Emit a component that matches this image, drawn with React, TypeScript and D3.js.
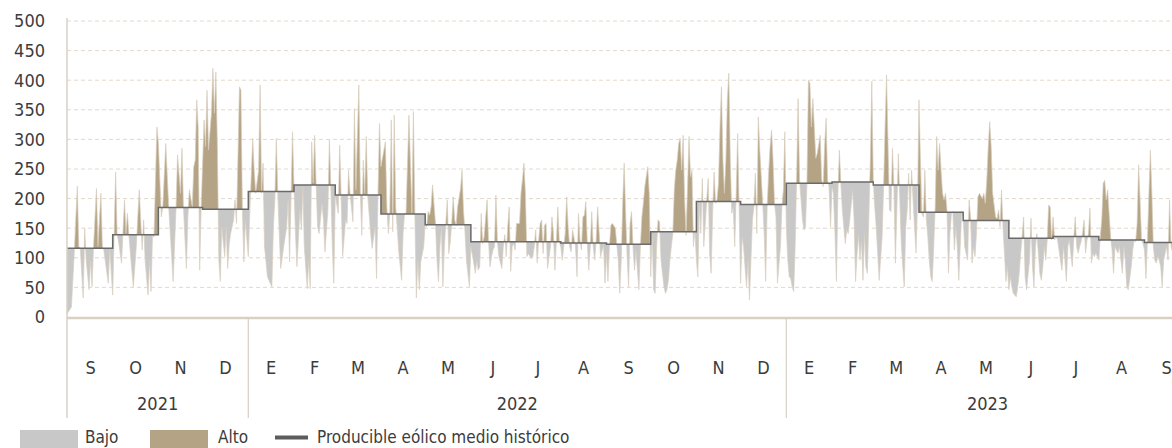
import React from 'react';
import * as d3 from 'd3';

// Series start (index 0 = 31 Aug 2021). Each pair: [days since start, daily wind production]
const production2021: [number, number][] = [
  [0,5],[3,17],[5,113],[7,221],[8,119],[9,116],[11,32],[12,150],[13,96],[15,46],[16,96],[17,51],[18,119],[20,217],[21,119],[23,209],[24,119],[25,113],[28,57],[29,116],[31,37],[33,245],[34,141],[35,127],[37,91],[39,198],[40,141],[41,175],[42,138],[44,79],[45,51],[47,119],[49,215],[51,113],[52,164],[53,96],[55,37],[56,96],[57,43],[58,138],[59,135],[61,321],[62,293],[64,169],[65,186],[67,293],[69,186],[72,60],[74,186],[75,274],[77,209],[78,285],[79,186],[81,82],[82,169],[83,215],[85,186],[86,254],[87,265],[88,367],[89,321],[90,79],[91,184],[93,333],[94,288],[95,383],[96,282],[98,344],[99,420],[100,344],[101,414],[102,293],[103,96],[104,60],[105,152],[107,102],[108,152],[109,82],[110,122],[111,141],[113,164],[114,198],[115,158],[117,389],[118,383],[119,181],[120,93],[121,164]
];
const production2022: [number, number][] = [
  [123,102],[124,175],[126,302],[127,248],[128,209],[130,248],[131,392],[132,209],[133,260],[134,119],[136,68],[137,62],[139,51],[140,152],[141,198],[142,302],[143,209],[144,141],[145,82],[147,119],[149,152],[150,198],[151,93],[153,313],[154,220],[155,141],[156,85],[158,181],[159,147],[160,220],[161,119],[163,48],[164,96],[165,48],[166,296],[167,226],[168,307],[169,226],[170,152],[171,141],[173,192],[174,164],[175,110],[177,181],[178,299],[179,220],[180,119],[181,57],[182,206],[184,175],[185,290],[186,203],[187,102],[189,164],[190,158],[191,248],[192,209],[194,161],[195,352],[196,215],[198,392],[199,209],[200,138],[201,265],[202,209],[203,305],[204,206],[206,141],[207,116],[209,152],[210,65],[211,209],[212,327],[213,254],[216,296],[217,186],[218,141],[219,175],[220,333],[221,144],[222,341],[223,186],[224,152],[225,113],[227,62],[228,141],[229,175],[230,175],[232,341],[234,175],[235,347],[236,175],[237,32],[238,96],[239,46],[240,93],[242,119],[243,158],[244,152],[245,178],[246,172],[247,186],[248,223],[250,158],[251,96],[252,60],[253,119],[254,152],[255,51],[256,119],[258,198],[259,107],[260,127],[261,158],[262,203],[263,164],[264,155],[265,186],[267,217],[268,248],[269,180],[270,144],[271,96],[273,51],[274,119],[276,91],[277,74],[278,96],[279,79],[280,85],[281,175],[282,124],[283,136],[285,198],[286,127],[287,85],[288,102],[289,113],[290,119],[291,206],[292,127],[293,102],[295,82],[296,119],[297,139],[298,102],[299,152],[300,186],[301,77],[302,119],[303,125],[304,113],[305,158],[307,158],[308,209],[309,232],[310,260],[311,209],[312,102],[313,107],[315,99],[316,102],[317,119],[318,147],[319,91],[320,130],[321,158],[322,164],[323,107],[324,155],[325,158],[326,82],[328,119],[329,169],[330,141],[331,79],[332,127],[333,186],[334,127],[335,119],[336,96],[338,141],[339,203],[340,152],[341,119],[342,110],[343,147],[345,119],[346,68],[347,175],[348,130],[349,113],[350,169],[351,172],[352,195],[353,124],[354,79],[355,119],[356,178],[357,119],[358,96],[359,130],[360,186],[362,102],[364,122],[365,57],[366,107],[367,60],[368,119],[369,155],[370,158],[372,150],[373,122],[374,96],[375,40],[376,96],[377,192],[378,260],[379,175],[380,102],[381,51],[382,158],[383,178],[384,119],[385,79],[386,113],[388,46],[389,119],[390,169],[391,192],[392,220],[393,237],[394,254],[395,209],[396,68],[397,141],[398,46],[399,40],[400,119],[401,164],[402,161],[403,96],[404,74],[405,51],[406,40],[407,46],[408,62],[409,96],[410,119],[411,141],[412,215],[413,248],[414,265],[415,293],[416,302],[417,248],[418,307],[419,198],[420,138],[421,220],[422,305],[423,237],[424,248],[425,119],[426,147],[427,96],[428,68],[429,192],[430,141],[431,234],[432,119],[433,158],[435,234],[436,107],[437,74],[438,175],[439,245],[440,192],[441,198],[442,226],[443,321],[444,389],[445,265],[446,209],[447,265],[448,367],[449,412],[450,265],[451,175],[452,186],[453,119],[454,209],[455,310],[456,181],[457,57],[458,136],[459,119],[461,51],[462,96],[463,29],[464,96],[465,164],[466,186],[467,243],[468,141],[469,338],[470,282],[472,192],[473,141],[474,60],[475,186],[476,243],[477,288],[478,316],[479,265],[480,192],[481,169],[482,57],[484,119],[485,186],[486,215],[487,313]
];
const production2023: [number, number][] = [
  [488,152],[489,96],[490,68],[491,65],[492,51],[493,43],[494,119],[495,237],[496,369],[497,231],[498,198],[499,164],[500,147],[501,152],[502,226],[503,400],[504,395],[505,321],[506,369],[507,321],[508,268],[509,276],[511,307],[512,231],[513,220],[514,288],[515,336],[516,231],[517,220],[518,152],[519,220],[520,209],[521,141],[522,60],[523,209],[524,282],[525,226],[526,181],[527,152],[528,124],[529,147],[530,141],[531,164],[533,215],[534,164],[535,60],[536,107],[537,138],[538,96],[539,130],[540,62],[541,141],[542,85],[543,74],[544,169],[545,265],[546,398],[547,231],[548,186],[549,152],[550,107],[551,62],[553,136],[554,220],[555,321],[556,409],[557,293],[558,181],[559,178],[560,285],[561,220],[562,91],[563,181],[564,276],[565,198],[566,124],[567,85],[568,51],[569,152],[570,181],[571,243],[572,164],[573,248],[574,198],[575,152],[576,108],[577,192],[578,367],[579,265],[580,175],[581,169],[582,248],[583,164],[584,136],[585,96],[586,68],[587,60],[588,119],[589,186],[590,305],[591,248],[592,293],[593,248],[594,209],[595,198],[596,209],[597,181],[598,74],[599,141],[600,175],[601,178],[602,113],[603,152],[604,119],[605,62],[606,119],[607,178],[608,169],[609,119],[611,96],[612,198],[613,169],[614,91],[615,119],[616,102],[617,141],[618,203],[619,209],[621,200],[622,209],[623,192],[624,231],[625,288],[626,330],[627,288],[628,209],[630,169],[631,166],[632,181],[633,152],[634,215],[635,152],[636,108],[637,60],[638,85],[639,46],[640,68],[641,51],[642,40],[644,34],[645,51],[646,74],[647,108],[648,136],[649,169],[650,68],[651,46],[653,96],[654,167],[655,85],[656,51],[657,119],[658,141],[660,74],[661,62],[662,85],[663,119],[664,96],[665,130],[666,189],[667,186],[668,130],[669,169],[670,130],[671,136],[672,130],[674,96],[675,79],[676,119],[677,96],[678,60],[679,119],[680,130],[682,85],[683,130],[684,169],[685,119],[686,108],[687,119],[688,127],[689,141],[690,164],[691,108],[692,130],[693,141],[694,184],[695,91],[696,108],[697,102],[698,108],[700,96],[701,136],[702,164],[703,226],[704,231],[705,198],[706,215],[708,136],[709,113],[710,74],[711,119],[713,108],[714,119],[715,96],[716,74],[717,119],[718,96],[719,51],[720,46],[722,85],[723,113],[724,130],[725,127],[726,158],[727,257],[728,198],[729,130],[730,124],[731,113],[732,65],[733,130],[734,209],[735,282],[736,209],[737,119],[738,96],[739,91],[740,102],[741,96],[742,85],[743,51],[744,96],[745,108],[746,119],[747,96],[748,198],[749,119],[750,110]
];

// Monthly historical average (Sep 2021 .. Sep 2023)
const monthlyAverage = [116, 139, 185, 182, 212, 223, 206, 174, 156, 127, 127, 125, 123, 144, 195, 190, 226, 228, 223, 177, 163, 133, 136, 130, 126];
const monthLabels = ['S', 'O', 'N', 'D', 'E', 'F', 'M', 'A', 'M', 'J', 'J', 'A', 'S', 'O', 'N', 'D', 'E', 'F', 'M', 'A', 'M', 'J', 'J', 'A', 'S'];
const yearLabels = ['2021', '2022', '2023'];
const yTicks = [0, 50, 100, 150, 200, 250, 300, 350, 400, 450, 500];
const legendItems = ['Bajo', 'Alto', 'Producible eólico medio histórico'];

const W = 1172;
const H = 448;
const START = new Date(Date.UTC(2021, 7, 31));
const FIRST_MONTH = new Date(Date.UTC(2021, 8, 1));
const LAST_INDEX = 750;
const DAY_PX = 1.474;
const LEFT = 67;
const BASE_Y = 317;
const TOP_Y = 21;

const GRAY = '#c8c8c8';
const TAN = '#b4a384';
const AXIS = '#d9d0c3';
const TEXT = '#3c3c3c';
const FONT = "'DejaVu Sans Condensed', 'DejaVu Sans', sans-serif";

export default function App() {
  const END = d3.utcDay.offset(START, LAST_INDEX);
  const x = d3.scaleUtc().domain([START, END]).range([LEFT, LEFT + LAST_INDEX * DAY_PX]);
  const y = d3.scaleLinear().domain([0, 500]).range([BASE_Y, TOP_Y]);

  const series = [...production2021, ...production2022, ...production2023].map(([d, v]) => ({
    date: d3.utcDay.offset(START, d),
    value: v,
  }));

  const monthStarts = monthlyAverage.map((_, k) => d3.utcMonth.offset(FIRST_MONTH, k));
  const monthEnds = monthStarts.map((m) => d3.utcMonth.offset(m, 1));

  // step line points
  const stepPts: { date: Date; value: number }[] = [{ date: START, value: monthlyAverage[0] }];
  for (let k = 1; k < monthlyAverage.length; k++) {
    stepPts.push({ date: monthStarts[k], value: monthlyAverage[k - 1] });
    stepPts.push({ date: monthStarts[k], value: monthlyAverage[k] });
  }
  stepPts.push({ date: END, value: monthlyAverage[monthlyAverage.length - 1] });

  const line = d3
    .line<{ date: Date; value: number }>()
    .x((d) => x(d.date))
    .y((d) => y(d.value));

  const valuePath = line(series) || '';
  const stepPath = line(stepPts) || '';
  const bandPts = [...series, ...stepPts.slice().reverse()];
  const bandPath = (line(bandPts) || '') + 'Z';

  const stepCoords = stepPts.map((p) => `${x(p.date)},${y(p.value)}`).join(' L');
  const xs = x(START);
  const xe = x(END);
  const clipAbove = `M${xs},0 L${stepCoords} L${xe},0 Z`;
  const clipBelow = `M${xs},${BASE_Y} L${stepCoords} L${xe},${BASE_Y} Z`;

  const yearStarts = [START, new Date(Date.UTC(2022, 0, 1)), new Date(Date.UTC(2023, 0, 1))];
  const yearEnds = [new Date(Date.UTC(2022, 0, 1)), new Date(Date.UTC(2023, 0, 1)), new Date(Date.UTC(2023, 9, 1))];

  return (
    <svg
      width={W}
      height={H}
      style={{ position: 'absolute', left: 0, top: 0, background: '#fff' }}
      fontFamily={FONT}
    >
      <defs>
        <clipPath id="above">
          <path d={clipAbove} />
        </clipPath>
        <clipPath id="below">
          <path d={clipBelow} />
        </clipPath>
      </defs>

      {/* gridlines */}
      {yTicks
        .filter((t) => t > 0)
        .map((t) => (
          <line
            key={t}
            x1={LEFT}
            x2={W}
            y1={y(t)}
            y2={y(t)}
            stroke="#e2d8cd"
            strokeWidth={1}
            strokeDasharray="4,3"
          />
        ))}

      {/* bands */}
      <path d={bandPath} fill={GRAY} clipPath="url(#below)" />
      <path d={bandPath} fill={TAN} clipPath="url(#above)" />
      <path d={valuePath} fill="none" stroke="#d8cebf" strokeWidth={0.7} strokeLinejoin="round" />
      <path d={stepPath} fill="none" stroke="#6a6a6a" strokeWidth={1.5} />

      {/* axes */}
      <line x1={LEFT} x2={LEFT} y1={18} y2={418} stroke={AXIS} strokeWidth={1.5} />
      <line x1={LEFT} x2={W} y1={BASE_Y + 1} y2={BASE_Y + 1} stroke={AXIS} strokeWidth={2.5} />
      {yearStarts.slice(1).map((d, i) => (
        <line key={i} x1={x(d)} x2={x(d)} y1={BASE_Y} y2={418} stroke={AXIS} strokeWidth={1.2} />
      ))}

      {yTicks.map((t) => (
        <text key={t} x={45} y={y(t)} dy="0.35em" textAnchor="end" fontSize={18} fill={TEXT}>
          {t}
        </text>
      ))}

      {monthLabels.map((m, k) => {
        const s = monthStarts[k] < START ? START : monthStarts[k];
        const mid = (x(s) + x(monthEnds[k])) / 2;
        return (
          <text key={k} x={mid} y={374} textAnchor="middle" fontSize={18} fill={TEXT}>
            {m}
          </text>
        );
      })}

      {yearLabels.map((yl, i) => (
        <text
          key={yl}
          x={(x(yearStarts[i]) + x(yearEnds[i])) / 2}
          y={410}
          textAnchor="middle"
          fontSize={18}
          fill={TEXT}
        >
          {yl}
        </text>
      ))}

      {/* legend */}
      <rect x={20} y={430} width={58} height={20} fill={GRAY} />
      <text x={85} y={443} fontSize={17} fill={TEXT}>{legendItems[0]}</text>
      <rect x={150} y={430} width={58} height={20} fill={TAN} />
      <text x={218} y={443} fontSize={17} fill={TEXT}>{legendItems[1]}</text>
      <line x1={275} x2={308} y1={437.5} y2={437.5} stroke="#5c5c5c" strokeWidth={4} />
      <text x={317} y={443} fontSize={17} fill={TEXT}>{legendItems[2]}</text>
    </svg>
  );
}
